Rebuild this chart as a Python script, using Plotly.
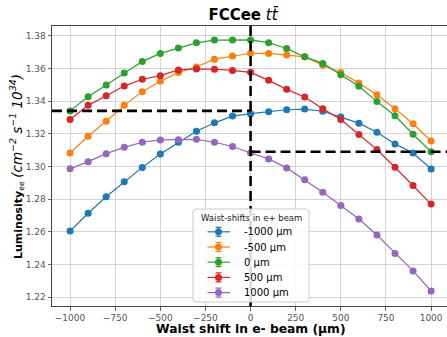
import plotly.graph_objects as go

waist_shift_e_minus = [-1000, -900, -800, -700, -600, -500, -400, -300, -200, -100,
                       0, 100, 200, 300, 400, 500, 600, 700, 800, 900, 1000]

series_labels = ["-1000 µm", "-500 µm", "0 µm", "500 µm", "1000 µm"]

lumi_m1000 = [1.2604, 1.2713, 1.2814, 1.2906, 1.2994, 1.3076, 1.3148, 1.3215, 1.3267, 1.3308,
              1.3323, 1.3335, 1.3347, 1.3351, 1.3338, 1.3302, 1.3265, 1.3209, 1.3138, 1.3082, 1.2984]
lumi_m500 = [1.3082, 1.3185, 1.3277, 1.3374, 1.3458, 1.3521, 1.3575, 1.3609, 1.3657, 1.3676,
             1.3693, 1.3692, 1.3683, 1.3671, 1.3620, 1.3575, 1.3511, 1.3439, 1.3353, 1.3261, 1.3156]
lumi_0 = [1.3340, 1.3427, 1.3498, 1.3572, 1.3642, 1.3692, 1.3726, 1.3757, 1.3774, 1.3775,
          1.3775, 1.3758, 1.3722, 1.3671, 1.3631, 1.3562, 1.3491, 1.3397, 1.3310, 1.3197, 1.3090]
lumi_p500 = [1.3287, 1.3374, 1.3433, 1.3492, 1.3534, 1.3556, 1.3591, 1.3597, 1.3595, 1.3588,
             1.3576, 1.3527, 1.3472, 1.3425, 1.3353, 1.3287, 1.3195, 1.3103, 1.2995, 1.2883, 1.2769]
lumi_p1000 = [1.2985, 1.3029, 1.3078, 1.3117, 1.3148, 1.3162, 1.3164, 1.3166, 1.3148, 1.3122,
              1.3082, 1.3046, 1.2991, 1.2918, 1.2842, 1.2760, 1.2678, 1.2580, 1.2467, 1.2360, 1.2237]

err_m1000 = [0.0008] * 20 + [0.0010]
err_m500 = [0.0007] * 21
err_0 = [0.0007] * 21
err_p500 = [0.0007] * 21
err_p1000 = [0.0007] * 20 + [0.0015]

y_ticks = [1.22, 1.24, 1.26, 1.28, 1.30, 1.32, 1.34, 1.36, 1.38]
x_ticks = [-1000, -750, -500, -250, 0, 250, 500, 750, 1000]
nominal_shift = 0
legend_title = "Waist-shifts in e+ beam"

colors = ["#1f77b4", "#ff7f0e", "#2ca02c", "#d62728", "#9467bd"]
all_series = [lumi_m1000, lumi_m500, lumi_0, lumi_p500, lumi_p1000]
all_errs = [err_m1000, err_m500, err_0, err_p500, err_p1000]

FONT = "DejaVu Sans"
W, H = 447, 337
ML, MR, MT, MB = 52, 0, 26, 31
X_RANGE = [-1100, 1088]
Y_RANGE = [1.2145, 1.386]
PW, PH = W - ML - MR, H - MT - MB


def px2x(px):
    return (px - ML) / PW


def py2y(py):
    return (H - MB - py) / PH


fig = go.Figure()
for lab, vals, errs, col in zip(series_labels, all_series, all_errs, colors):
    fig.add_trace(go.Scatter(
        x=waist_shift_e_minus, y=vals, name=lab, mode="lines+markers",
        line=dict(color=col, width=1.2),
        marker=dict(color=col, size=7, symbol="circle"),
        error_y=dict(type="data", array=errs, visible=True, color=col, thickness=1.2, width=3),
        showlegend=False, hoverinfo="skip",
    ))

dash_style = dict(color="black", width=2.6, dash="10px,5px")
x_frac_nominal = (nominal_shift - X_RANGE[0]) / (X_RANGE[1] - X_RANGE[0])
shapes = [
    dict(type="line", xref="x", yref="paper", x0=nominal_shift, x1=nominal_shift,
         y0=0, y1=1, line=dash_style, layer="above"),
    dict(type="line", xref="paper", yref="y", x0=0, x1=x_frac_nominal,
         y0=lumi_0[0], y1=lumi_0[0], line=dash_style, layer="above"),
    dict(type="line", xref="paper", yref="y", x0=x_frac_nominal, x1=1,
         y0=lumi_0[-1], y1=lumi_0[-1], line=dash_style, layer="above"),
]

# ---- custom legend (matplotlib-like, compact) ----
bx0, bx1, by0, by1, r = 193, 309, 209, 302, 3
path = (f"M {px2x(bx0 + r)} {py2y(by0)} L {px2x(bx1 - r)} {py2y(by0)} "
        f"Q {px2x(bx1)} {py2y(by0)} {px2x(bx1)} {py2y(by0 + r)} "
        f"L {px2x(bx1)} {py2y(by1 - r)} Q {px2x(bx1)} {py2y(by1)} {px2x(bx1 - r)} {py2y(by1)} "
        f"L {px2x(bx0 + r)} {py2y(by1)} Q {px2x(bx0)} {py2y(by1)} {px2x(bx0)} {py2y(by1 - r)} "
        f"L {px2x(bx0)} {py2y(by0 + r)} Q {px2x(bx0)} {py2y(by0)} {px2x(bx0 + r)} {py2y(by0)} Z")
shapes.append(dict(type="path", xref="paper", yref="paper", path=path,
                   fillcolor="rgba(255,255,255,0.85)", line=dict(color="#cccccc", width=1),
                   layer="above"))

annotations = [
    dict(text=legend_title, xref="paper", yref="paper", x=px2x(251), y=py2y(217.5),
         xanchor="center", yanchor="middle", showarrow=False,
         font=dict(family=FONT, size=8.5, color="#222222")),
]
for i, (lab, col) in enumerate(zip(series_labels, colors)):
    yc = 231.8 + 15.2 * i
    mx = 218.5
    shapes.append(dict(type="line", xref="paper", yref="paper", x0=px2x(207.5), x1=px2x(230),
                       y0=py2y(yc), y1=py2y(yc), line=dict(color=col, width=1.2), layer="above"))
    shapes.append(dict(type="line", xref="paper", yref="paper", x0=px2x(mx), x1=px2x(mx),
                       y0=py2y(yc - 4.5), y1=py2y(yc + 4.5), line=dict(color=col, width=1.2), layer="above"))
    for cy in (yc - 4.5, yc + 4.5):
        shapes.append(dict(type="line", xref="paper", yref="paper", x0=px2x(mx - 3), x1=px2x(mx + 3),
                           y0=py2y(cy), y1=py2y(cy), line=dict(color=col, width=1.2), layer="above"))
    shapes.append(dict(type="circle", xref="paper", yref="paper", x0=px2x(mx - 3.5), x1=px2x(mx + 3.5),
                       y0=py2y(yc - 3.5), y1=py2y(yc + 3.5), fillcolor=col, line=dict(color=col, width=0),
                       layer="above"))
    annotations.append(dict(text=lab, xref="paper", yref="paper", x=px2x(241.5), y=py2y(yc),
                            xanchor="left", yanchor="middle", showarrow=False,
                            font=dict(family=FONT, size=10, color="black")))

ylabel = ("<b>Luminosity</b><sub>ee</sub> "
          "<span style='font-size:13.5px'><i>(cm<sup>\u22122</sup> s<sup>\u22121</sup> "
          "10<sup>34</sup>)</i></span>")

annotations += [
    dict(text="<b>Waist shift in e- beam (µm)</b>", xref="paper", yref="paper",
         x=px2x(251), y=py2y(329), xanchor="center", yanchor="middle", showarrow=False,
         font=dict(family=FONT, size=12.3, color="black")),
    dict(text=ylabel, xref="paper", yref="paper", x=px2x(16), y=py2y(167),
         xanchor="center", yanchor="middle", textangle=-90, showarrow=False,
         font=dict(family=FONT, size=11, color="black")),
]

axis_common = dict(
    showgrid=True, gridcolor="#c8c8c8", gridwidth=0.8,
    showline=True, linecolor="#444444", linewidth=1,
    ticks="outside", ticklen=3.5, tickwidth=0.8, tickcolor="#444444",
    tickfont=dict(family=FONT, size=9, color="#555555"),
    zeroline=False,
)

fig.update_layout(
    width=W, height=H,
    margin=dict(l=ML, r=MR, t=MT, b=MB, autoexpand=False),
    paper_bgcolor="white", plot_bgcolor="white",
    font=dict(family=FONT),
    xaxis=dict(range=X_RANGE, tickvals=x_ticks, mirror=True,
               ticktext=[str(v).replace("-", "\u2212") for v in x_ticks], **axis_common),
    yaxis=dict(range=Y_RANGE, tickvals=y_ticks, mirror=False,
               ticktext=[f"{v:.2f}" for v in y_ticks], **axis_common),
    title=dict(text="<b>FCCee</b> <i>tt\u0304</i>", x=243 / W, xanchor="center",
               y=1 - 15 / H, yanchor="middle", yref="container",
               font=dict(family=FONT, size=15, color="black")),
    showlegend=False,
    hovermode=False,
    shapes=shapes,
    annotations=annotations,
)

fig.write_html("out.html", config={"displayModeBar": False, "staticPlot": True},
               post_script="document.body.style.margin='0';document.body.style.padding='0';")
